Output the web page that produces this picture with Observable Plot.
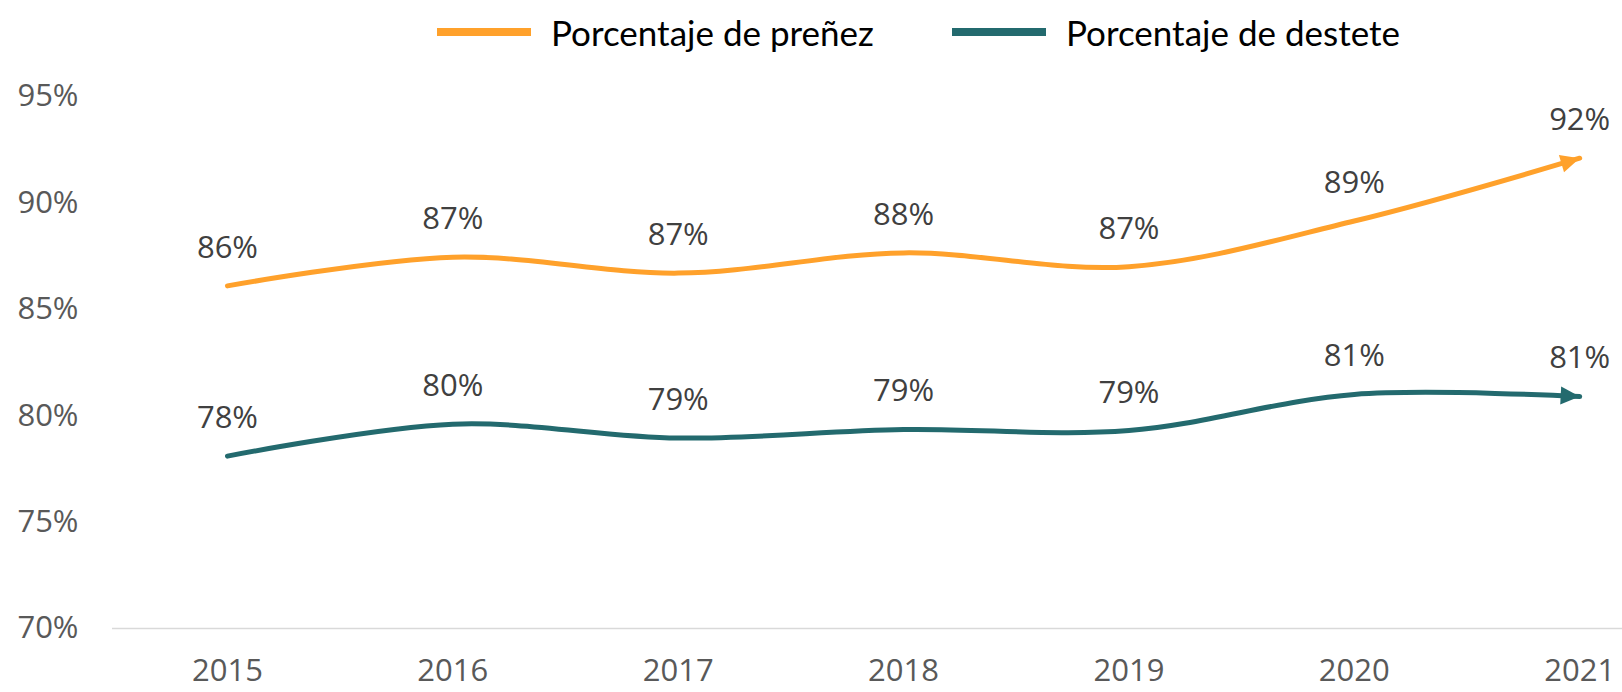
<!DOCTYPE html>
<html><head><meta charset="utf-8">
<script src="https://cdn.jsdelivr.net/npm/d3@7"></script>
<script src="https://cdn.jsdelivr.net/npm/@observablehq/plot@0.6"></script>
<style>
body{margin:0;background:#fff;font-family:Lato,sans-serif;}
#legend{height:62px;position:relative;width:1622px;}
.item{position:absolute;top:11px;height:42px;display:flex;align-items:center;font-size:35px;color:#000;white-space:nowrap;}
.sw{width:94px;height:8px;margin-right:20px;}
</style></head><body>
<div id="legend"></div>
<div id="chart"></div>
<script>
const years = [2015, 2016, 2017, 2018, 2019, 2020, 2021];
const prenez = [86.1, 87.45, 86.7, 87.65, 87.0, 89.15, 92.1];
const destete = [78.1, 79.6, 78.95, 79.35, 79.3, 81.0, 80.9];
const prenezLabels = ["86%", "87%", "87%", "88%", "87%", "89%", "92%"];
const desteteLabels = ["78%", "80%", "79%", "79%", "79%", "81%", "81%"];
const seriesNames = ["Porcentaje de preñez", "Porcentaje de destete"];
const seriesColors = ["#FFA12B", "#236A6E"];
const yTicks = [70, 75, 80, 85, 90, 95];

const table = [];
years.forEach((yr, i) => table.push({year: yr, value: prenez[i], label: prenezLabels[i], series: seriesNames[0]}));
years.forEach((yr, i) => table.push({year: yr, value: destete[i], label: desteteLabels[i], series: seriesNames[1]}));

// legend
const legend = document.getElementById("legend");
const legendLeft = [437, 952];
seriesNames.forEach((name, i) => {
  const it = document.createElement("div");
  it.className = "item";
  it.style.left = legendLeft[i] + "px";
  const sw = document.createElement("div");
  sw.className = "sw";
  sw.style.background = seriesColors[i];
  it.appendChild(sw);
  const t = document.createElement("span");
  t.textContent = name;
  it.appendChild(t);
  legend.appendChild(it);
});

function arrowHead(color, context) {
  const doc = (context && context.document) || document;
  const ns = "http://www.w3.org/2000/svg";
  const m = doc.createElementNS(ns, "marker");
  m.setAttribute("viewBox", "-20 -10 20 20");
  m.setAttribute("markerUnits", "userSpaceOnUse");
  m.setAttribute("markerWidth", "20");
  m.setAttribute("markerHeight", "20");
  m.setAttribute("refX", "0");
  m.setAttribute("refY", "0");
  m.setAttribute("orient", "auto");
  const p = doc.createElementNS(ns, "path");
  p.setAttribute("d", "M-19,-9L0,0L-19,9Z");
  p.setAttribute("fill", color);
  p.setAttribute("stroke", "none");
  m.appendChild(p);
  return m;
}

const chart = Plot.plot({
  width: 1622,
  height: 630,
  marginLeft: 112,
  marginRight: 0,
  marginTop: 34,
  marginBottom: 64,
  style: {fontFamily: "'Open Sans', sans-serif", fontSize: "31px", color: "#595959", background: "white"},
  x: {type: "linear", domain: [2014.49, 2021.19]},
  y: {domain: [70, 95]},
  color: {domain: seriesNames, range: seriesColors},
  marks: [
    Plot.ruleY([70], {stroke: "#d9d9d9", strokeWidth: 1.5}),
    Plot.axisY({ticks: yTicks, tickFormat: d => d + "%", tickSize: 0, tickPadding: 34, label: null, fontSize: 31, fill: "#595959"}),
    Plot.axisX({ticks: years, tickFormat: "d", tickSize: 0, tickPadding: 30, label: null, fontSize: 31, fill: "#595959"}),
    Plot.line(table, {x: "year", y: "value", z: "series", stroke: "series", strokeWidth: 5, curve: "catmull-rom", markerEnd: arrowHead}),
    Plot.text(table, {x: "year", y: "value", text: "label", dy: -38, fontSize: 31, fill: "#404040"})
  ]
});
document.getElementById("chart").appendChild(chart);
</script>
</body></html>
